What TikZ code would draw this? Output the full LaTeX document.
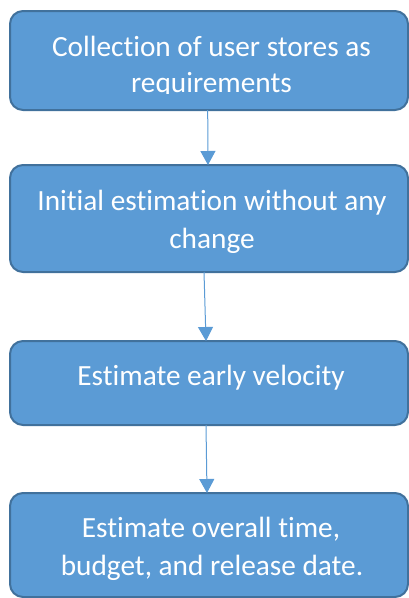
\documentclass[tikz,border=0pt]{standalone}
\usepackage{fontspec}
\setmainfont{Carlito}[Ligatures={NoCommon}]
\usetikzlibrary{arrows.meta}
\definecolor{boxfill}{HTML}{5B9BD5}
\definecolor{boxline}{HTML}{41719C}
\definecolor{arrowcol}{HTML}{5B9BD5}
\begin{document}
\begin{tikzpicture}[x=1pt,y=-1pt,
  stepbox/.style={draw=boxline,fill=boxfill,line width=2pt,rounded corners=13pt,
    minimum width=398pt,inner sep=0pt,outer sep=0pt},
  txt/.style={anchor=base,text=white,inner sep=0pt,font=\fontsize{29.3}{37}\selectfont},
  conn/.style={draw=arrowcol,line width=1pt,-{Triangle[width=15pt,length=14pt]}}]
\useasboundingbox (0,0) rectangle (409,598);
\node[stepbox,minimum height=99pt] (b1) at (209,60.5) {};
\node[stepbox,minimum height=107pt] (b2) at (209,218.5) {};
\node[stepbox,minimum height=84pt] (b3) at (209,383) {};
\node[stepbox,minimum height=104pt] (b4) at (209,545) {};
\begin{scope}
\clip (10,11) rectangle (408,93.5);
\node[txt] (t1a) at (211.5,56) {Collection of user stores as};
\node[txt] (t1b) at (211.5,92) {requirements};
\end{scope}
\node[txt] (t2a) at (212,210) {Initial estimation without any};
\node[txt] (t2b) at (212,248) {change};
\node[txt] (t3) at (211,385) {Estimate early velocity};
\node[txt] (t4a) at (211,537) {Estimate overall time,};
\node[txt] (t4b) at (212,575) {budget, and release date.};
\draw[conn] ([xshift=-1.3pt]b1.south) -- ([xshift=-1pt]b2.north);
\draw[conn] ([xshift=-5pt]b2.south) -- ([xshift=-3pt]b3.north);
\draw[conn] ([xshift=-3pt]b3.south) -- ([xshift=-2pt]b4.north);
\end{tikzpicture}
\end{document}
